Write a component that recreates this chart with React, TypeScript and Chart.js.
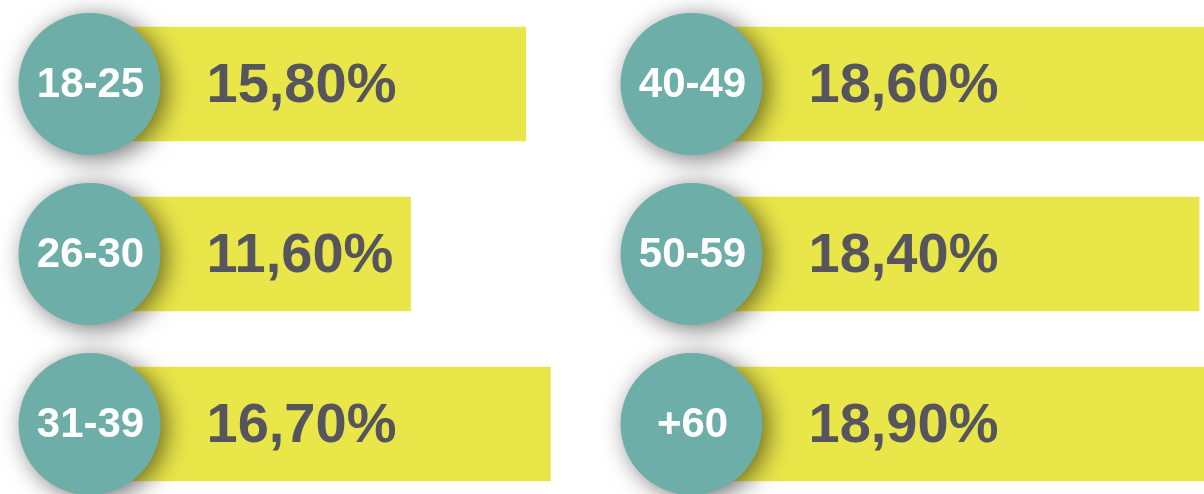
import React, { useEffect, useRef } from "react";
import { Chart, registerables } from "chart.js";

Chart.register(...registerables);

const leftCategories = ["18-25", "26-30", "31-39"];
const leftValues = [15.8, 11.6, 16.7];
const rightCategories = ["40-49", "50-59", "+60"];
const rightValues = [18.6, 18.4, 18.9];

const TEAL = "#6eaea8";
const YELLOW = "#e9e64a";
const TEXT = "#56555e";
const FONT = '"Liberation Sans", Arial, Helvetica, sans-serif';

const fmt = (v: number) => v.toFixed(2).replace(".", ",") + "%";

const badgePlugin = {
  id: "badges",
  afterDraw(chart: any) {
    const ctx = chart.ctx as CanvasRenderingContext2D;
    const xs = chart.scales.x;
    const ys = chart.scales.y;
    const labels = chart.data.labels as string[];
    const values = chart.data.datasets[0].data as number[];
    const x0 = xs.getPixelForValue(0);
    labels.forEach((lab, i) => {
      const cy = ys.getPixelForValue(i);
      const cx = x0 - 3;
      // percent label
      ctx.save();
      ctx.fillStyle = TEXT;
      ctx.font = `bold 56px ${FONT}`;
      ctx.textAlign = "left";
      ctx.textBaseline = "alphabetic";
      ctx.fillText(fmt(values[i]), x0 + 114, cy + 17.5);
      ctx.restore();
      // circle with shadow
      ctx.save();
      ctx.shadowColor = "rgba(0,0,0,0.55)";
      ctx.shadowBlur = 24;
      ctx.shadowOffsetX = 6;
      ctx.shadowOffsetY = 4;
      ctx.fillStyle = TEAL;
      ctx.beginPath();
      ctx.arc(cx, cy, 71, 0, Math.PI * 2);
      ctx.fill();
      ctx.restore();
      ctx.save();
      ctx.fillStyle = "#ffffff";
      ctx.font = `bold 42px ${FONT}`;
      ctx.textAlign = "center";
      ctx.textBaseline = "alphabetic";
      ctx.fillText(lab, cx + 1, cy + 12.5);
      ctx.restore();
    });
  },
};

function BarColumn({ categories, values, left }: { categories: string[]; values: number[]; left: number }) {
  const ref = useRef<HTMLCanvasElement | null>(null);
  useEffect(() => {
    if (!ref.current) return;
    const chart = new Chart(ref.current, {
      type: "bar",
      data: {
        labels: categories,
        datasets: [
          {
            data: values,
            backgroundColor: YELLOW,
            borderWidth: 0,
            barThickness: 114,
          },
        ],
      },
      options: {
        indexAxis: "y",
        responsive: false,
        animation: false,
        devicePixelRatio: 1,
        layout: { padding: { left: 92.5, right: 0, top: 0, bottom: 0 } },
        plugins: { legend: { display: false }, tooltip: { enabled: false } },
        scales: {
          x: { type: "linear", min: 0, max: 18.58, display: false },
          y: { type: "category", display: false, offset: true },
        },
      },
      plugins: [badgePlugin],
    } as any);
    return () => chart.destroy();
  }, [categories, values]);
  return (
    <div style={{ position: "absolute", left, top: -1, width: 602, height: 510 }}>
      <canvas ref={ref} width={602} height={510} style={{ display: "block" }} />
    </div>
  );
}

export default function App() {
  return (
    <div
      style={{
        position: "fixed",
        left: 0,
        top: 0,
        width: 1204,
        height: 494,
        overflow: "hidden",
        background: "#ffffff",
      }}
    >
      <BarColumn categories={leftCategories} values={leftValues} left={0} />
      <BarColumn categories={rightCategories} values={rightValues} left={602} />
    </div>
  );
}
